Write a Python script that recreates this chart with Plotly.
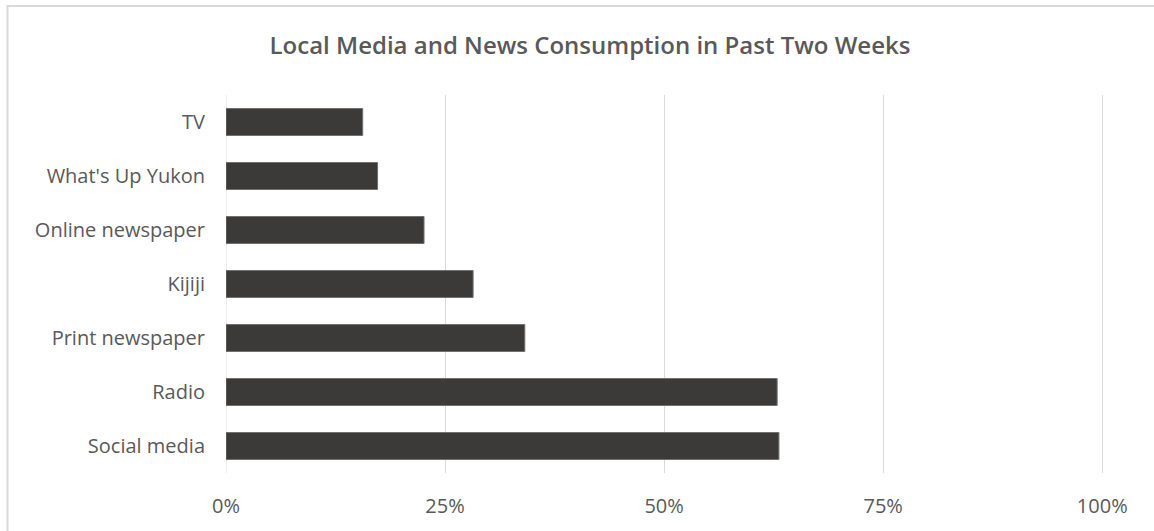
import plotly.graph_objects as go

categories = ["Social media", "Radio", "Print newspaper", "Kijiji",
              "Online newspaper", "What's Up Yukon", "TV"]
values = [0.631, 0.629, 0.341, 0.282, 0.226, 0.173, 0.156]
tick_vals = [0, 0.25, 0.5, 0.75, 1.0]
tick_text = ["0%", "25%", "50%", "75%", "100%"]
title_text = "Local Media and News Consumption in Past Two Weeks"

W, H = 1154, 531
L, R, T, B = 226, 50, 95, 58
pw, ph = W - L - R, H - T - B

fig = go.Figure(go.Bar(
    x=values, y=categories, orientation="h",
    marker=dict(color="#3b3a39", line=dict(color="#707070", width=1)),
    hoverinfo="x+y",
))

def px_x(p):
    return (p - L) / pw

def px_y(p):
    return 1 - (p - T) / ph

border = "#d9d9d9"
fig.add_shape(type="line", xref="paper", yref="paper",
              x0=px_x(7.5), x1=px_x(1160), y0=px_y(6), y1=px_y(6),
              line=dict(color=border, width=2))
fig.add_shape(type="line", xref="paper", yref="paper",
              x0=px_x(7.5), x1=px_x(7.5), y0=px_y(5), y1=px_y(540),
              line=dict(color=border, width=2))
fig.add_shape(type="line", xref="x", yref="paper", x0=0, x1=0, y0=0, y1=1,
              line=dict(color="#d9d9d9", width=1), layer="below")

fig.update_layout(
    width=W, height=H,
    margin=dict(l=L, r=R, t=T, b=B),
    paper_bgcolor="white", plot_bgcolor="white",
    bargap=0.5,
    showlegend=False,
    title=dict(text=title_text, x=590 / W, xanchor="center",
               y=1 - 46 / H, yanchor="middle",
               font=dict(family="Open Sans", size=24, color="#595959", weight=600)),
    font=dict(family="Open Sans", size=20, color="#595959"),
    xaxis=dict(range=[0, 1.002], tickvals=tick_vals, ticktext=tick_text,
               showgrid=True, gridcolor="#d9d9d9", gridwidth=1,
               zeroline=False, showline=False, ticks="",
               ticklabelstandoff=19, fixedrange=True),
    yaxis=dict(showgrid=False, zeroline=False, showline=False, ticks="",
               ticklabelstandoff=20, categoryorder="array",
               categoryarray=categories, fixedrange=True),
)

fig.write_html("out.html",
               config={"displayModeBar": False},
               post_script="document.body.style.margin='0';document.body.style.overflow='hidden';")
